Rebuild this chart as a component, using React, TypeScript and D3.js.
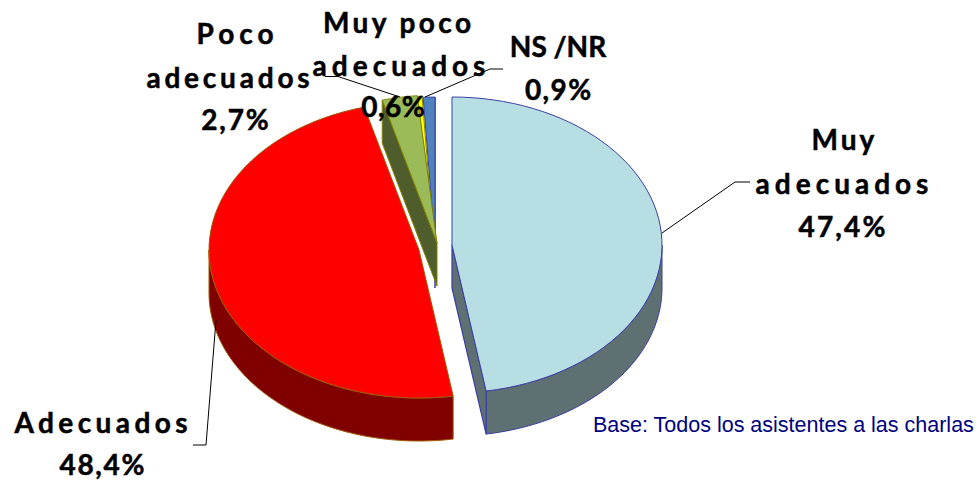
import React from "react";
import * as d3 from "d3";

const WIDTH = 976;
const HEIGHT = 482;

const categories = ["Muy adecuados", "Adecuados", "Poco adecuados", "Muy poco adecuados", "NS /NR"];
const values = [47.4, 48.4, 2.7, 0.6, 0.9];
const topColors = ["#B7DEE3", "#FF0000", "#9BBB59", "#FFFF00", "#4F81BD"];
const sideColors = ["#5F7072", "#800000", "#4F5D2D", "#808000", "#28415F"];
const strokeColors = ["#3B3FA5", "#A05A00", "#808000", "#808000", "#3B3FA5"];
const centers: [number, number][] = [[452, 245], [419, 250], [437, 243], [434, 244], [435, 245]];
const drawOrder = [4, 3, 2, 1, 0];

const labelLines: { lines: string[]; x: number[]; ys: number[]; spacing: number[] }[] = [
  { lines: ["Muy", "adecuados", "47,4%"], x: [843, 842, 842], ys: [150, 194, 237], spacing: [3, 5, 2.2] },
  { lines: ["Adecuados", "48,4%"], x: [101, 102], ys: [433, 475], spacing: [4.4, 1.7] },
  { lines: ["Poco", "adecuados", "2,7%"], x: [235, 228, 235], ys: [44, 88, 130], spacing: [5, 3.8, 1.8] },
  { lines: ["Muy poco", "adecuados", "0,6%"], x: [397, 399, 393], ys: [33, 76, 117], spacing: [3.4, 5, 0.5] },
  { lines: ["NS /NR", "0,9%"], x: [558, 558], ys: [57, 100], spacing: [0, 1.4] },
];

const leaders: [number, number][][] = [
  [[662, 233], [735, 182], [750, 182]],
  [[216, 320], [206, 445], [193, 445]],
  [[325, 76.5], [338, 76.5], [400, 97]],
  [[425, 97], [490, 69], [503, 69]],
];

const RX = 210;
const RY = 148;
const DEPTH = 43;

const pieGen = d3.pie<number>().sort(null).startAngle(0).endAngle(2 * Math.PI);
const arcs = pieGen(values);

const ex = d3.scaleLinear().domain([-1, 1]).range([-RX, RX]);
const ey = d3.scaleLinear().domain([-1, 1]).range([-RY, RY]);
const pt = (a: number): [number, number] => [ex(Math.sin(a)), ey(-Math.cos(a))];
const line = d3.line();

function topPath(a: d3.PieArcDatum<number>) {
  const n = 60;
  const pts: [number, number][] = [[0, 0]];
  d3.range(n + 1).forEach((i) => {
    pts.push(pt(a.startAngle + ((a.endAngle - a.startAngle) * i) / n));
  });
  return line(pts) + "Z";
}

function wallPath(a0: number, a1: number) {
  const n = 60;
  const upper = d3.range(n + 1).map((i) => pt(a0 + ((a1 - a0) * i) / n));
  const lower = upper.slice().reverse().map(([x, y]) => [x, y + DEPTH] as [number, number]);
  return line([...upper, ...lower]) + "Z";
}

function cutPath(a: number) {
  const p = pt(a);
  return line([[0, 0], p, [p[0], p[1] + DEPTH], [0, DEPTH]]) + "Z";
}

export default function App() {
  return (
    <svg width={WIDTH} height={HEIGHT} style={{ position: "absolute", left: 0, top: 0, background: "#fff" }}>
      {drawOrder.map((i) => {
        const a = arcs[i];
        const [cx, cy] = centers[i];
        const wa0 = Math.max(a.startAngle, Math.PI / 2);
        const wa1 = Math.min(a.endAngle, (3 * Math.PI) / 2);
        return (
          <g key={categories[i]} transform={`translate(${cx},${cy})`} strokeLinejoin="round">
            {wa1 > wa0 && (
              <path d={wallPath(wa0, wa1)} fill={sideColors[i]} stroke={strokeColors[i]} strokeWidth={1} />
            )}
            {i === 0 && <path d={cutPath(a.endAngle)} fill={sideColors[i]} stroke={strokeColors[i]} strokeWidth={1.2} />}
            {i === 2 && <path d={cutPath(a.startAngle)} fill={sideColors[i]} stroke={strokeColors[i]} strokeWidth={1} />}
            {i === 4 && <path d={cutPath(a.endAngle)} fill={sideColors[i]} stroke={strokeColors[i]} strokeWidth={1} />}
            <path d={topPath(a)} fill={topColors[i]} stroke={strokeColors[i]} strokeWidth={1} />
          </g>
        );
      })}
      {leaders.map((l, i) => (
        <path key={i} d={line(l) ?? ""} fill="none" stroke="#000" strokeWidth={1} />
      ))}
      {labelLines.map((l) =>
        l.lines.map((t, j) => (
          <text
            key={l.lines[0] + j}
            x={l.x[j] + l.spacing[j] / 2}
            y={l.ys[j]}
            textAnchor="middle"
            fontFamily="Lato, sans-serif"
            fontWeight={700}
            fontSize={28}
            letterSpacing={l.spacing[j]}
            fill="#000"
            stroke="#000"
            strokeWidth={0.5}
          >
            {t}
          </text>
        ))
      )}
      <text x={593} y={432} fontFamily="'Liberation Sans', Arial, sans-serif" fontSize={21.5} fill="#000080">
        Base: Todos los asistentes a las charlas
      </text>
    </svg>
  );
}
